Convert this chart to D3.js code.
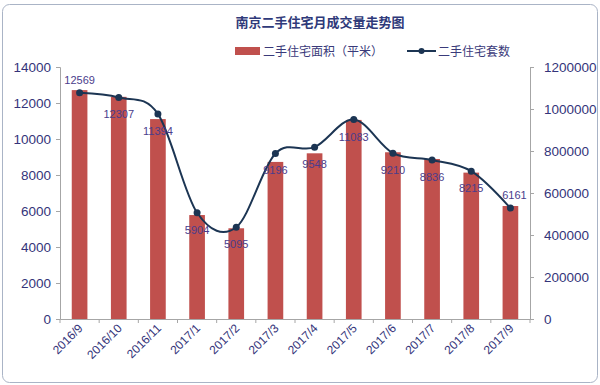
<!DOCTYPE html>
<html>
<head>
<meta charset="utf-8">
<script src="https://cdn.jsdelivr.net/npm/d3@7"></script>
<style>
  body { margin: 0; background: #fff; }
  svg { display: block; font-family: "Liberation Sans", "Noto Sans CJK SC", sans-serif; }
</style>
</head>
<body>
<div id="chart"></div>
<script>
const width = 600;
const height = 385;
const margin = { top: 67, right: 70, bottom: 66, left: 60 };

// months, bar = area (right axis), line = units (left axis)
const months = ["2016/9", "2016/10", "2016/11", "2017/1", "2017/2", "2017/3",
                "2017/4", "2017/5", "2017/6", "2017/7", "2017/8", "2017/9"];
const areaSqm = [1090000, 1058000, 952000, 495000, 432000, 748000,
                 789000, 948000, 794000, 762000, 697000, 538000];
const units = [12569, 12307, 11394, 5904, 5095, 9196,
               9548, 11083, 9210, 8836, 8215, 6161];
const leftTicks = [0, 2000, 4000, 6000, 8000, 10000, 12000, 14000];
const rightTicks = [0, 200000, 400000, 600000, 800000, 1000000, 1200000];

const svg = d3.select("#chart").append("svg")
  .attr("width", width)
  .attr("height", height);

// outer chart frame
svg.append("rect")
  .attr("x", 2.5).attr("y", 4.5)
  .attr("width", 595).attr("height", 378)
  .attr("rx", 7)
  .attr("fill", "#fff")
  .attr("stroke", "#aab4c6");

const x = d3.scaleBand()
  .domain(months)
  .range([margin.left, width - margin.right])
  .paddingInner(0.6)
  .paddingOuter(0.3);

const yL = d3.scaleLinear().domain([0, 14000]).range([height - margin.bottom, margin.top]);
const yR = d3.scaleLinear().domain([0, 1200000]).range([height - margin.bottom, margin.top]);

// title
svg.append("text")
  .attr("x", 320).attr("y", 27)
  .attr("text-anchor", "middle")
  .attr("font-size", 13)
  .attr("font-weight", "bold")
  .attr("fill", "#2f3a7a")
  .text("南京二手住宅月成交量走势图");

// legend
const legend = svg.append("g").attr("font-size", 12).attr("fill", "#3a3a7a");
legend.append("rect").attr("x", 235).attr("y", 47).attr("width", 25).attr("height", 8).attr("fill", "#c0504d");
legend.append("text").attr("x", 263).attr("y", 56).text("二手住宅面积（平米）");
legend.append("line").attr("x1", 407).attr("x2", 436).attr("y1", 51).attr("y2", 51)
  .attr("stroke", "#1c3553").attr("stroke-width", 2);
legend.append("circle").attr("cx", 421.5).attr("cy", 51).attr("r", 3).attr("fill", "#1c3553");
legend.append("text").attr("x", 438).attr("y", 56).text("二手住宅套数");

// bars
svg.append("g")
  .selectAll("rect")
  .data(months)
  .join("rect")
  .attr("x", d => x(d))
  .attr("y", (d, i) => yR(areaSqm[i]))
  .attr("width", x.bandwidth())
  .attr("height", (d, i) => yR(0) - yR(areaSqm[i]))
  .attr("fill", "#c0504d");

// axes
const axisColor = "#a6a6a6";
const labelColor = "#34347a";

const gL = svg.append("g")
  .attr("transform", `translate(${margin.left},0)`)
  .call(d3.axisLeft(yL).tickValues(leftTicks).tickSize(4).tickPadding(5).tickFormat(d3.format("d")));
const gR = svg.append("g")
  .attr("transform", `translate(${width - margin.right},0)`)
  .call(d3.axisRight(yR).tickValues(rightTicks).tickSize(4).tickPadding(10).tickFormat(d3.format("d")));
const gX = svg.append("g")
  .attr("transform", `translate(0,${height - margin.bottom})`)
  .call(d3.axisBottom(x).tickSize(0).tickPadding(0));

[gL, gR, gX].forEach(g => {
  g.select(".domain").attr("stroke", axisColor);
  g.selectAll(".tick line").attr("stroke", axisColor);
});
[gL, gR].forEach(g => {
  g.selectAll(".tick text")
    .attr("font-size", 13.5)
    .attr("fill", labelColor);
});

// x ticks between categories
gX.selectAll(".boundary")
  .data(months.concat(["end"]))
  .join("line")
  .attr("x1", (d, i) => margin.left + i * x.step())
  .attr("x2", (d, i) => margin.left + i * x.step())
  .attr("y1", 0).attr("y2", 4)
  .attr("stroke", axisColor);

// rotated labels, end sits under the bar center
gX.selectAll(".tick text")
  .attr("font-size", 12)
  .attr("fill", labelColor)
  .attr("text-anchor", "end")
  .attr("x", 0).attr("y", 0).attr("dy", 0)
  .attr("transform", "translate(4,10) rotate(-45)");

// line
const lineGen = d3.line()
  .x((d, i) => x(months[i]) + x.bandwidth() / 2)
  .y(d => yL(d))
  .curve(d3.curveCatmullRom.alpha(0));

svg.append("path")
  .datum(units)
  .attr("d", lineGen)
  .attr("fill", "none")
  .attr("stroke", "#1c3553")
  .attr("stroke-width", 2);

svg.append("g")
  .selectAll("circle")
  .data(units)
  .join("circle")
  .attr("cx", (d, i) => x(months[i]) + x.bandwidth() / 2)
  .attr("cy", d => yL(d))
  .attr("r", 3.5)
  .attr("fill", "#1c3553");

// data labels: first and last above, others below
svg.append("g")
  .selectAll("text")
  .data(units)
  .join("text")
  .attr("x", (d, i) => x(months[i]) + x.bandwidth() / 2 + (i === units.length - 1 ? 4 : 0))
  .attr("y", (d, i) => yL(d) + (i === 0 || i === units.length - 1 ? -9 : 21))
  .attr("text-anchor", "middle")
  .attr("font-size", 11)
  .attr("fill", "#4a3d8c")
  .text(d => d);
</script>
</body>
</html>
